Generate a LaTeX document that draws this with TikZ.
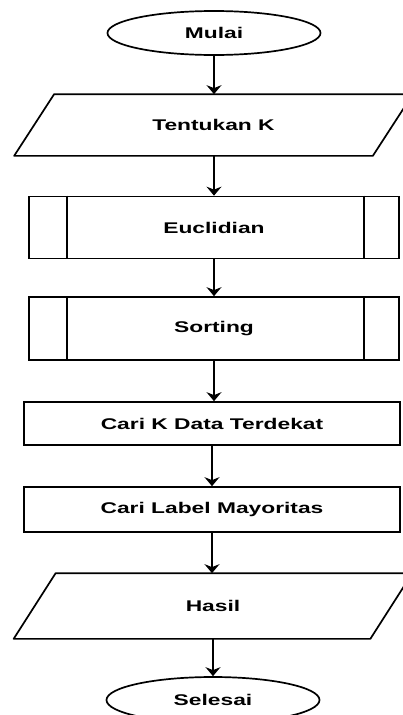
\documentclass[tikz,border=0pt]{standalone}
\usepackage{fontspec}
\newfontfamily\flowfont[FakeStretch=1.47]{Liberation Sans}
\usetikzlibrary{arrows.meta, shapes.geometric}

\begin{document}
\begin{tikzpicture}[
    x=1pt, y=-1pt,
    base/.style={
        line width=1.7pt,
        inner sep=0pt,
        align=center,
        font=\flowfont\bfseries\fontsize{15.5}{18}\selectfont
    },
    terminal/.style={
        base,
        draw=black,
        ellipse,
        minimum width=213pt,
        minimum height=44pt
    },
    io/.style={
        base,
        rectangle,
        minimum width=397pt
    },
    box/.style={
        base,
        draw=black,
        rectangle,
        minimum width=376pt
    },
    subproc/.style={
        box,
        minimum width=370pt,
        minimum height=62pt
    },
    edgeline/.style={
        line width=1.7pt,
        line join=round
    },
    arrow/.style={
        -{Stealth[width=15pt, length=9pt, inset=3pt]},
        line width=1.7pt
    }
]
\useasboundingbox (0,0) rectangle (403,715);
\clip (0,0) rectangle (403,715);

% Start and input
\node[terminal]                      (start) at (214,33)    {Mulai};
\node[io, minimum height=60pt]       (inK)   at (213.5,125) {Tentukan K};
\draw[edgeline] ([xshift=40pt]inK.north west) -- (inK.north east)
    -- ([xshift=-40pt]inK.south east) -- (inK.south west) -- cycle;

% Sub-processes
\node[subproc]                       (euc)   at (214,227.5) {Euclidian};
\node[subproc, minimum height=63pt]  (sort)  at (214,328.5) {Sorting};

% Inner bars of the sub-processes
\draw[edgeline] ([xshift=39pt]euc.north west)  -- ([xshift=39pt]euc.south west);
\draw[edgeline] ([xshift=-36pt]euc.north east) -- ([xshift=-36pt]euc.south east);
\draw[edgeline] ([xshift=39pt]sort.north west)  -- ([xshift=39pt]sort.south west);
\draw[edgeline] ([xshift=-36pt]sort.north east) -- ([xshift=-36pt]sort.south east);

% Processes
\node[box, minimum height=43pt]      (near)  at (212,423.5) {Cari K Data Terdekat};
\node[box, minimum height=45pt]      (major) at (212,509.5) {Cari Label Mayoritas};

% Output and end
\node[io, minimum height=64pt]       (out)   at (213,606)   {Hasil};
\draw[edgeline] ([xshift=42pt]out.north west) -- (out.north east)
    -- ([xshift=-42pt]out.south east) -- (out.south west) -- cycle;
\node[terminal, minimum height=46pt] (stop)  at (213,700)   {Selesai};

% Arrows
\draw[arrow] (start) -- (start |- inK.north);
\draw[arrow] (inK.south -| euc) -- (euc);
\draw[arrow] (euc)   -- (sort);
\draw[arrow] (sort)  -- (sort |- near.north);
\draw[arrow] (near)  -- (major);
\draw[arrow] (major) -- (major |- out.north);
\draw[arrow] (out.south -| stop) -- (stop);

\end{tikzpicture}
\end{document}
